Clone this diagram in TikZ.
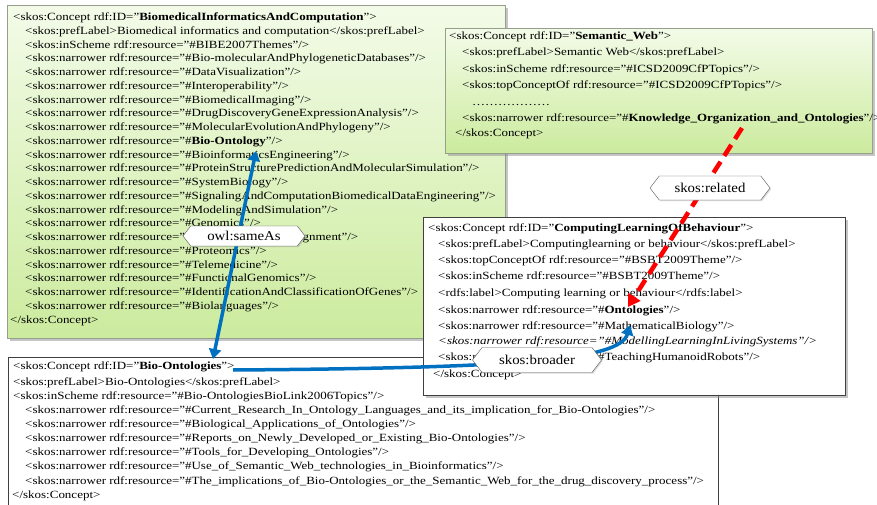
\documentclass[tikz,border=0pt]{standalone}
\usepackage{fontspec}
\setmainfont{Liberation Serif}
\usetikzlibrary{shapes.symbols,shadows,arrows.meta}

\definecolor{linkblue}{RGB}{0,112,192}
\definecolor{linkred}{RGB}{255,0,0}
\definecolor{leaftop}{RGB}{243,251,232}
\definecolor{leafbot}{RGB}{204,235,158}
\definecolor{leafedge}{RGB}{150,158,140}

\def\xs{1.18}
\newcommand{\skosnar}{<skos:narrower rdf:resource="\#}

\tikzset{
  codeline/.style={anchor=west, inner sep=0pt, text height=7.5pt, text depth=2.2pt,
    font=\fontsize{11}{13}\selectfont, xscale=\xs},
  leafbox/.style={draw=leafedge, top color=leaftop, bottom color=leafbot, anchor=north west,
    drop shadow={shadow xshift=2.5pt, shadow yshift=-2.5pt, fill=black!45}},
  plainbox/.style={draw=black!75, fill=white, anchor=north west},
  relbox/.style={signal, signal to=east and west, signal pointer angle=105, draw=black!65,
    fill=white, inner sep=0pt, font=\fontsize{13.5}{14}\selectfont,
    drop shadow={shadow xshift=1.2pt, shadow yshift=-1.2pt, opacity=0.3}},
  bluelink/.style={draw=linkblue, line width=3.5pt},
  redlink/.style={draw=linkred, line width=4.5pt, dash pattern=on 13pt off 7pt,
    -{Triangle[width=14pt,length=12pt]}},
}

\begin{document}
\begin{tikzpicture}[x=1pt, y=-1pt]
      \clip (0,0) rectangle (877,505);
      % concept boxes
      \node[leafbox, minimum width=498pt, minimum height=333pt] (bioinf) at (7,5) {};
      \node[leafbox, minimum width=427pt, minimum height=125pt] (semweb) at (445,28) {};

      \node[codeline] (g1) at (13,18) {<skos:Concept rdf:ID="\textbf{BiomedicalInformaticsAndComputation}">};
      \node[codeline] (g2) at (25,31.75) {<skos:prefLabel>Biomedical informatics and computation</skos:prefLabel>};
      \node[codeline] (g3) at (25,45.5) {<skos:inScheme rdf:resource="\#BIBE2007Themes"/>};
      \node[codeline] (g4) at (25,59.25) {\skosnar Bio-molecularAndPhylogeneticDatabases"/>};
      \node[codeline] (g5) at (25,73) {\skosnar DataVisualization"/>};
      \node[codeline] (g6) at (25,86.75) {\skosnar Interoperability"/>};
      \node[codeline] (g7) at (25,100.5) {\skosnar BiomedicalImaging"/>};
      \node[codeline] (g8) at (25,114.25) {\skosnar DrugDiscoveryGeneExpressionAnalysis"/>};
      \node[codeline] (g9) at (25,128) {\skosnar MolecularEvolutionAndPhylogeny"/>};
      \node[codeline] (g10) at (25,141.75) {\skosnar\textbf{Bio-Ontology}"/>};
      \node[codeline] (g11) at (25,155.5) {\skosnar BioinformaticsEngineering"/>};
      \node[codeline] (g12) at (25,169.25) {\skosnar ProteinStructurePredictionAndMolecularSimulation"/>};
      \node[codeline] (g13) at (25,183) {\skosnar SystemBiology"/>};
      \node[codeline] (g14) at (25,196.75) {\skosnar SignalingAndComputationBiomedicalDataEngineering"/>};
      \node[codeline] (g15) at (25,210.5) {\skosnar ModelingAndSimulation"/>};
      \node[codeline] (g16) at (25,224.25) {\skosnar Genomics"/>};
      \node[codeline] (g17) at (25,238) {\skosnar MultipleSequenceAlignment"/>};
      \node[codeline] (g18) at (25,251.75) {\skosnar Proteomics"/>};
      \node[codeline] (g19) at (25,265.5) {\skosnar Telemedicine"/>};
      \node[codeline] (g20) at (25,279.25) {\skosnar FunctionalGenomics"/>};
      \node[codeline] (g21) at (25,293) {\skosnar IdentificationAndClassificationOfGenes"/>};
      \node[codeline] (g22) at (25,306.75) {\skosnar Biolanguages"/>};
      \node[codeline] (g23) at (10,320.5) {</skos:Concept>};

      \node[codeline] (s1) at (449,37) {<skos:Concept rdf:ID="\textbf{Semantic\_Web}">};
      \node[codeline] (s2) at (462,53) {<skos:prefLabel>Semantic Web</skos:prefLabel>};
      \node[codeline] (s3) at (462,70) {<skos:inScheme rdf:resource="\#ICSD2009CfPTopics"/>};
      \node[codeline] (s4) at (462,86) {<skos:topConceptOf rdf:resource="\#ICSD2009CfPTopics"/>};
      \node[codeline] (s5) at (472,103) {\ldots\ldots\ldots\ldots\ldots\ldots};
      \node[codeline] (s6) at (462,119) {\skosnar\textbf{Knowledge\_Organization\_and\_Ontologies}"/>};
      \node[codeline] (s7) at (455,134) {</skos:Concept>};

      \node[plainbox, minimum width=710pt, minimum height=160pt] (bioonto) at (8,357) {};
      \node[codeline] (b1) at (13,367) {<skos:Concept rdf:ID="\textbf{Bio-Ontologies}">};
      \node[codeline] (b2) at (13,382.5) {<skos:prefLabel>Bio-Ontologies</skos:prefLabel>};
      \node[codeline] (b3) at (13,397) {<skos:inScheme rdf:resource="\#Bio-OntologiesBioLink2006Topics"/>};
      \node[codeline] (b4) at (25,411) {\skosnar Current\_Research\_In\_Ontology\_Languages\_and\_its\_implication\_for\_Bio-Ontologies"/>};
      \node[codeline] (b5) at (25,425) {\skosnar Biological\_Applications\_of\_Ontologies"/>};
      \node[codeline] (b6) at (25,439) {\skosnar Reports\_on\_Newly\_Developed\_or\_Existing\_Bio-Ontologies"/>};
      \node[codeline] (b7) at (25,453) {\skosnar Tools\_for\_Developing\_Ontologies"/>};
      \node[codeline] (b8) at (25,467) {\skosnar Use\_of\_Semantic\_Web\_technologies\_in\_Bioinformatics"/>};
      \node[codeline] (b9) at (25,481.5) {\skosnar The\_implications\_of\_Bio-Ontologies\_or\_the\_Semantic\_Web\_for\_the\_drug\_discovery\_process"/>};
      \node[codeline] (b10) at (12,496) {</skos:Concept>};

      \node[plainbox, minimum width=422pt, minimum height=178pt,
        drop shadow={shadow xshift=2.5pt, shadow yshift=-2.5pt, fill=black!45}] (complearn) at (423,217) {};
      \node[codeline] (m1) at (428,229) {<skos:Concept rdf:ID="\textbf{ComputingLearningOfBehaviour}">};
      \node[codeline] (m2) at (438,245) {<skos:prefLabel>Computinglearning or behaviour</skos:prefLabel>};
      \node[codeline] (m3) at (438,261) {<skos:topConceptOf rdf:resource="\#BSBT2009Theme"/>};
      \node[codeline] (m4) at (438,277) {<skos:inScheme rdf:resource="\#BSBT2009Theme"/>};
      \node[codeline] (m5) at (438,294) {<rdfs:label>Computing learning or behaviour</rdfs:label>};
      \node[codeline] (m6) at (438,310.5) {\skosnar\textbf{Ontologies}"/>};
      \node[codeline] (m7) at (438,326.5) {\skosnar MathematicalBiology"/>};
      \node[codeline] (m8) at (438,342) {\itshape\skosnar ModellingLearningInLivingSystems"/>};
      \node[codeline] (m9) at (438,357.5) {\skosnar TeachingHumanoidRobots"/>};
      \node[codeline] (m10) at (433,375) {</skos:Concept>};

      % relations
      \coordinate (sameTop) at (256,151);
      \coordinate (sameBot) at (213,359);
      \coordinate (broadFrom) at (233,370);
      \coordinate (broadTo) at (630,325);
      \coordinate (relFrom) at (742,128);
      \coordinate (relTo) at (628,307);

      \draw[bluelink, {Triangle[width=12pt,length=10pt]}-{Triangle[width=12pt,length=10pt]}] (sameBot) -- (sameTop);
      \draw[bluelink, -{Triangle[width=12pt,length=10pt]}] (broadFrom) .. controls (520,368) and (620,360) .. (broadTo);
      \draw[redlink] (relFrom) -- (relTo);

      \node[relbox, minimum width=122pt, minimum height=20pt] (sameAs) at (244,236) {\scalebox{1.1}[1]{owl:sameAs}};
      \node[relbox, minimum width=120pt, minimum height=24pt] (related) at (710,188) {\scalebox{1.1}[1]{skos:related}};
      \node[relbox, minimum width=129pt, minimum height=25pt] (broader) at (537,360) {\scalebox{1.1}[1]{skos:broader}};
    \end{tikzpicture}
\end{document}
